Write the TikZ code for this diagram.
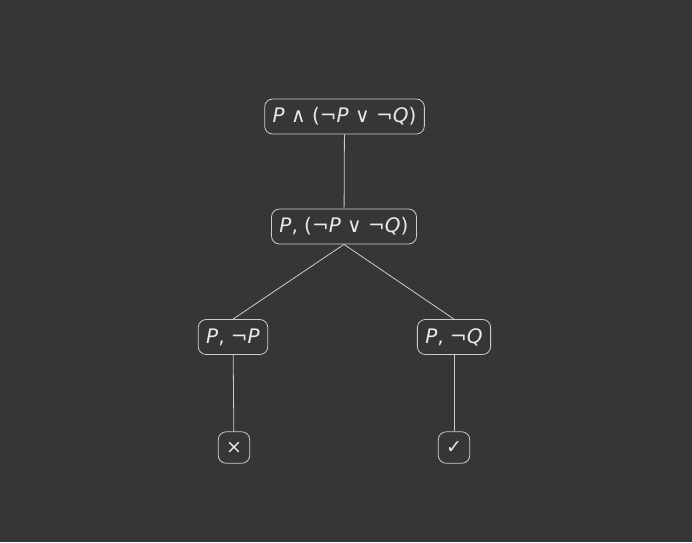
\documentclass[tikz,border=0pt]{standalone}
\usepackage{fontspec}
\setmainfont{DejaVu Sans}
\definecolor{bgGray}{RGB}{54,54,54}
\definecolor{lineGray}{RGB}{205,205,205}
\definecolor{textGray}{RGB}{232,232,232}
\newcommand{\vP}{\textit{P}}
\newcommand{\vQ}{\textit{Q}}
\begin{document}
\begin{tikzpicture}[x=1pt,y=-1pt,
    treeBox/.style={draw=lineGray,rounded corners=8pt,text=textGray,line width=0.8pt,
      font=\fontsize{20}{22}\selectfont,minimum height=35pt,inner xsep=8pt},
    treeLeaf/.style={draw=lineGray,rounded corners=8pt,text=textGray,line width=0.8pt,
      font=\fontsize{19}{21}\selectfont,minimum size=31.5pt,inner sep=0pt},
    treeEdge/.style={draw=lineGray,line width=0.8pt},
]
\fill[bgGray] (0,0) rectangle (692,542);
\useasboundingbox (0,0) rectangle (692,542);
% formulas
\node[treeBox] (root) at (344.5,116.5) {\vP{} ∧ (¬\vP{} ∨ ¬\vQ)};
\node[treeBox] (conj) at (344,226.5) {\vP, (¬\vP{} ∨ ¬\vQ)};
\node[treeBox] (left) at (233,337) {\vP, ¬\vP};
\node[treeBox] (right) at (454,337) {\vP, ¬\vQ};
% closed / open branches
\node[treeLeaf] (closed) at (234,447.5) {×};
\node[treeLeaf] (open) at (454,447.5) {✓};
% edges
\draw[treeEdge] (root) -- (conj);
\draw[treeEdge] (conj.south) -- (left.north);
\draw[treeEdge] (conj.south) -- (right.north);
\draw[treeEdge] (left) -- (closed);
\draw[treeEdge] (right) -- (open);
\end{tikzpicture}
\end{document}
